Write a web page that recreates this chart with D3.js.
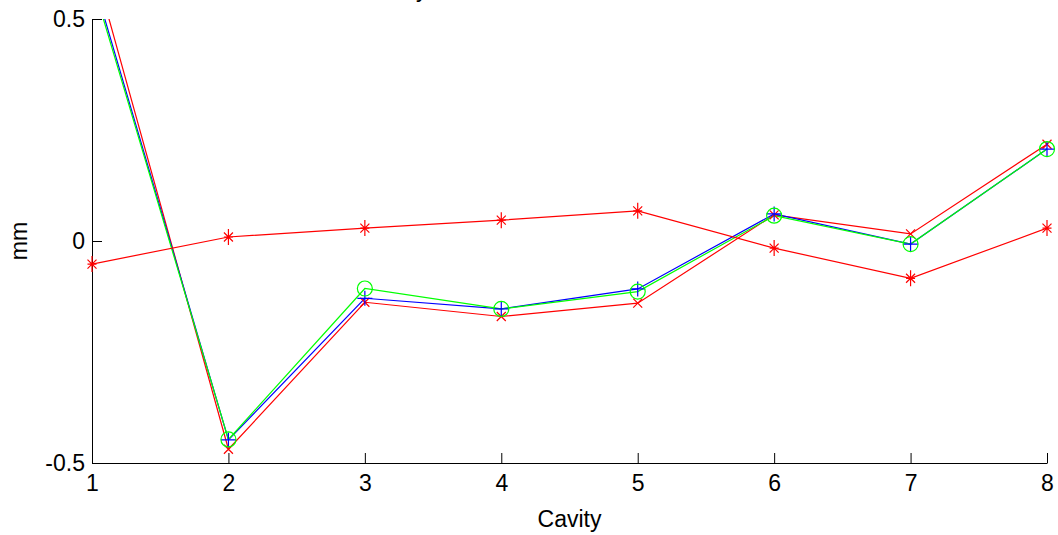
<!DOCTYPE html>
<html><head><meta charset="utf-8">
<script src="https://cdn.jsdelivr.net/npm/d3@7"></script>
<style>html,body{margin:0;padding:0;background:#fff;overflow:hidden}</style>
</head><body>
<svg id="c" width="1058" height="535"></svg>
<script>
const cavities = [1,2,3,4,5,6,7,8];
const redX     = [0.638,-0.469,-0.138,-0.170,-0.140,0.059,0.016,0.218];
const bluePlus = [0.598,-0.448,-0.129,-0.153,-0.108,0.061,-0.007,0.207];
const greenO   = [0.586,-0.447,-0.107,-0.153,-0.114,0.057,-0.007,0.207];
const redStar  = [-0.052,0.009,0.029,0.047,0.068,-0.016,-0.084,0.029];
const yTicks = [-0.5,0,0.5];
const yTickLabels = ["-0.5","0","0.5"];
const xLabel = "Cavity", yLabel = "mm", titleText = "y";

const svg = d3.select("#c");
const L=92,R=1047,T=19,B=463;
const x = d3.scaleLinear().domain([1,8]).range([L,R]);
const y = d3.scaleLinear().domain([-0.5,0.5]).range([B,T]);
const font = "'Liberation Sans', Arial, sans-serif";
const fs = 23;

svg.append("defs").append("clipPath").attr("id","clip")
  .append("rect").attr("x",L).attr("y",T).attr("width",R-L).attr("height",B-T);

// axes
const xa = svg.append("g").attr("transform",`translate(0,${B})`)
  .call(d3.axisBottom(x).tickValues(cavities).tickFormat(d3.format("d")).tickSizeInner(-10).tickSizeOuter(0).tickPadding(12));
const ya = svg.append("g").attr("transform",`translate(${L},0)`)
  .call(d3.axisLeft(y).tickValues(yTicks).tickFormat((d,i)=>yTickLabels[i]).tickSizeInner(-10).tickSizeOuter(0).tickPadding(7));
[xa,ya].forEach(a=>{
  a.select(".domain").attr("stroke","#000").attr("stroke-width",1);
  a.selectAll(".tick line").attr("stroke","#000");
  a.selectAll("text").attr("font-family",font).attr("font-size",fs).attr("fill","#000");
});
xa.selectAll(".tick text").attr("dy","0.71em");

svg.append("text").attr("x",(L+R)/2).attr("y",527).attr("text-anchor","middle")
  .attr("font-family",font).attr("font-size",fs).text(xLabel);
svg.append("text").attr("transform",`translate(27,${(T+B)/2}) rotate(-90)`).attr("text-anchor","middle")
  .attr("font-family",font).attr("font-size",fs).text(yLabel);
svg.append("text").attr("x",416).attr("y",-3).attr("font-family",font).attr("font-size",fs).text(titleText);

const line = d3.line().x((d,i)=>x(cavities[i])).y(d=>y(d));
const series = [
  {v:redX,c:"#ff0000",m:"x"},
  {v:bluePlus,c:"#0000ff",m:"+"},
  {v:greenO,c:"#00ff00",m:"o"},
  {v:redStar,c:"#ff0000",m:"*"}
];
const g = svg.append("g");
series.forEach(s=>{
  g.append("path").attr("d",line(s.v)).attr("fill","none").attr("stroke",s.c).attr("stroke-width",1.2).attr("clip-path","url(#clip)");
});
series.forEach(s=>{
  const pts = s.v.map((d,i)=>[x(cavities[i]),y(d)]).filter(p=>p[1]>=T-1&&p[1]<=B+1);
  pts.forEach(([px,py])=>{
    let d="";
    if(s.m==="x"){const a=4.5;d=`M${px-a},${py-a}L${px+a},${py+a}M${px-a},${py+a}L${px+a},${py-a}`;}
    if(s.m==="+"){const a=7.5;d=`M${px-a},${py}L${px+a},${py}M${px},${py-a}L${px},${py+a}`;}
    if(s.m==="*"){const a=8,b=4.5;d=`M${px},${py-a}L${px},${py+a}M${px-b},${py}L${px+b},${py}M${px-b},${py-b}L${px+b},${py+b}M${px-b},${py+b}L${px+b},${py-b}`;}
    if(s.m==="o"){g.append("circle").attr("cx",px).attr("cy",py).attr("r",7.5).attr("fill","none").attr("stroke",s.c).attr("stroke-width",1.2);return;}
    g.append("path").attr("d",d).attr("stroke",s.c).attr("stroke-width",1.2).attr("fill","none");
  });
});
</script>
</body></html>
